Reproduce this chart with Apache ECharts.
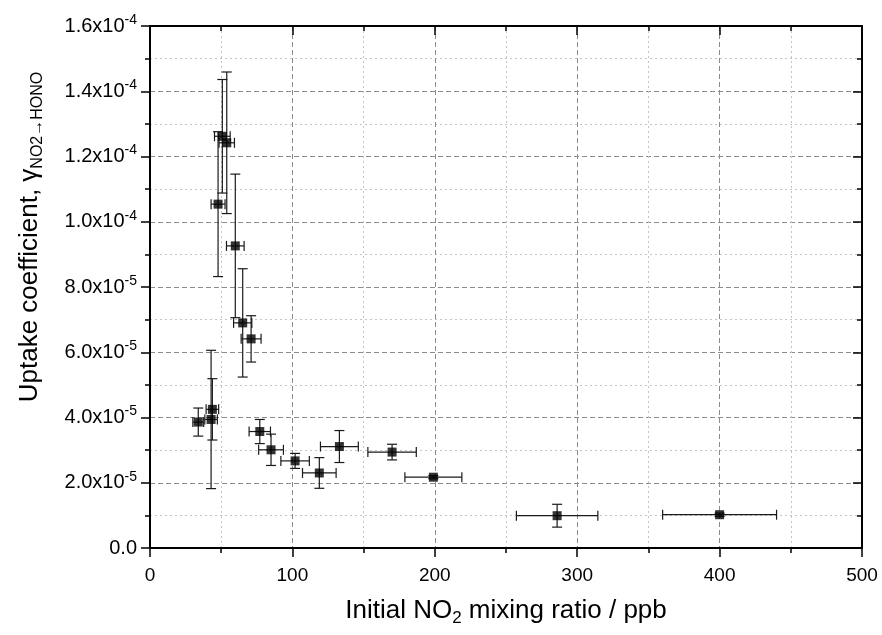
<!DOCTYPE html>
<html><head><meta charset="utf-8">
<script src="https://cdn.jsdelivr.net/npm/echarts@6/dist/echarts.min.js"></script>
<style>html,body{margin:0;padding:0;background:#fff}#c{width:882px;height:635px}</style>
</head><body><div id="c"></div>
<script>
// Data: initial NO2 (ppb), uptake coefficient, and their error bars
const xValues = [50.8, 53.9, 47.8, 59.9, 65.1, 71.0, 33.9, 43.8, 42.9, 77.1, 85.0, 101.9, 118.9, 133.0, 170.0, 199.0, 285.9, 400.0];
const yValues = [12.62e-5, 12.42e-5, 10.54e-5, 9.26e-5, 6.90e-5, 6.41e-5, 3.86e-5, 4.25e-5, 3.94e-5, 3.57e-5, 3.01e-5, 2.67e-5, 2.30e-5, 3.11e-5, 2.94e-5, 2.17e-5, 0.99e-5, 1.02e-5];
const xErrors = [5.5, 5.4, 4.9, 6.2, 6.4, 7.0, 3.8, 4.4, 4.4, 7.5, 8.7, 10.0, 11.8, 13.3, 17.0, 20.0, 28.6, 40.0];
const yErrors = [1.74e-5, 2.17e-5, 2.22e-5, 2.2e-5, 1.66e-5, 0.71e-5, 0.43e-5, 0.94e-5, 2.12e-5, 0.37e-5, 0.48e-5, 0.23e-5, 0.47e-5, 0.49e-5, 0.24e-5, 0.05e-5, 0.35e-5, 0.05e-5];
const yTickMantissa = ['0.0', '2.0', '4.0', '6.0', '8.0', '1.0', '1.2', '1.4', '1.6'];
const yTickExponent = ['', '-5', '-5', '-5', '-5', '-4', '-4', '-4', '-4'];
const xTickLabels = ['0', '100', '200', '300', '400', '500'];

const font = 'Liberation Sans, Arial, sans-serif';
const points = xValues.map((x, i) => [x, yValues[i]]);
const bars = xValues.map((x, i) => [x, yValues[i], xErrors[i], yErrors[i]]);

const chart = echarts.init(document.getElementById('c'), null, {renderer: 'canvas'});
const axisLine = {show: true, onZero: false, lineStyle: {color: '#000', width: 2}};
const majorSplit = {show: true, lineStyle: {color: '#8c8c8c', type: [5, 3], width: 1}};
const minorSplit = {show: true, lineStyle: {color: '#c4c4c4', type: [2, 3], width: 1}};

chart.setOption({
  animation: false,
  backgroundColor: '#fff',
  grid: {left: 150, right: 20, top: 26, bottom: 87, containLabel: false, outerBoundsMode: 'none'},
  xAxis: [{
    type: 'value', position: 'bottom', min: 0, max: 500, interval: 100,
    axisLine: axisLine,
    axisTick: {show: true, inside: false, length: 9, lineStyle: {color: '#000', width: 1.5}},
    minorTick: {show: true, splitNumber: 2, length: 5, lineStyle: {color: '#000', width: 1.5}},
    splitLine: majorSplit, minorSplitLine: minorSplit,
    axisLabel: {margin: 18, color: '#000', fontFamily: font, fontSize: 19,
      formatter: (v, i) => xTickLabels[i]},
    name: '{t|Initial NO}{s|2}{t| mixing ratio / ppb}',
    nameLocation: 'middle', nameGap: 47,
    nameTextStyle: {rich: {
      t: {fontFamily: font, fontSize: 26, color: '#000', lineHeight: 32},
      s: {fontFamily: font, fontSize: 17, color: '#000', lineHeight: 17, verticalAlign: 'bottom'}
    }}
  }, {
    type: 'value', position: 'top', min: 0, max: 500, interval: 100,
    axisLine: axisLine,
    axisTick: {show: true, inside: true, length: 9, lineStyle: {color: '#000', width: 1.5}},
    minorTick: {show: true, splitNumber: 2, length: 5, lineStyle: {color: '#000', width: 1.5}},
    splitLine: {show: false}, axisLabel: {show: false}
  }],
  yAxis: [{
    type: 'value', position: 'left', min: 0, max: 1.6e-4, interval: 2e-5,
    axisLine: axisLine,
    axisTick: {show: true, inside: false, length: 9, lineStyle: {color: '#000', width: 1.5}},
    minorTick: {show: true, splitNumber: 2, length: 5, lineStyle: {color: '#000', width: 1.5}},
    splitLine: majorSplit, minorSplitLine: minorSplit,
    axisLabel: {margin: 13, color: '#000', fontFamily: font,
      formatter: (v, i) => yTickExponent[i] ? '{m|' + yTickMantissa[i] + 'x10}{e|' + yTickExponent[i] + '}' : '{m|' + yTickMantissa[i] + '}',
      rich: {
        m: {fontFamily: font, fontSize: 20, color: '#000', lineHeight: 26},
        e: {fontFamily: font, fontSize: 14, color: '#000', lineHeight: 14, verticalAlign: 'top'}
      }},
    name: '{t|Uptake coefficient, γ}{s|NO2→HONO}',
    nameLocation: 'middle', nameGap: 104, nameRotate: 90,
    nameTextStyle: {padding: [0, 0, 0, 100], rich: {
      t: {fontFamily: font, fontSize: 26, color: '#000', lineHeight: 32},
      s: {fontFamily: font, fontSize: 16, color: '#000', lineHeight: 16, verticalAlign: 'bottom'}
    }}
  }, {
    type: 'value', position: 'right', min: 0, max: 1.6e-4, interval: 2e-5,
    axisLine: axisLine,
    axisTick: {show: true, inside: true, length: 9, lineStyle: {color: '#000', width: 1.5}},
    minorTick: {show: true, splitNumber: 2, length: 5, lineStyle: {color: '#000', width: 1.5}},
    splitLine: {show: false}, axisLabel: {show: false}
  }],
  series: [{
    type: 'custom', xAxisIndex: 0, yAxisIndex: 0, z: 2,
    encode: {x: 0, y: 1},
    data: bars,
    renderItem: function (params, api) {
      const x = api.value(0), y = api.value(1), dx = api.value(2), dy = api.value(3);
      const top = api.coord([x, y + dy]);
      const bot = api.coord([x, y - dy]);
      const lft = api.coord([x - dx, y]);
      const rgt = api.coord([x + dx, y]);
      const cap = 5;
      const st = {stroke: '#1a1a1a', lineWidth: 1.2};
      const seg = (x1, y1, x2, y2) => ({type: 'line', shape: {x1, y1, x2, y2}, style: st});
      return {type: 'group', children: [
        seg(top[0], top[1], bot[0], bot[1]),
        seg(top[0] - cap, top[1], top[0] + cap, top[1]),
        seg(bot[0] - cap, bot[1], bot[0] + cap, bot[1]),
        seg(lft[0], lft[1], rgt[0], rgt[1]),
        seg(lft[0], lft[1] - cap, lft[0], lft[1] + cap),
        seg(rgt[0], rgt[1] - cap, rgt[0], rgt[1] + cap)
      ]};
    }
  }, {
    type: 'scatter', xAxisIndex: 0, yAxisIndex: 0, z: 3,
    symbol: 'rect', symbolSize: 9,
    itemStyle: {color: '#000'},
    data: points
  }]
});
</script></body></html>
